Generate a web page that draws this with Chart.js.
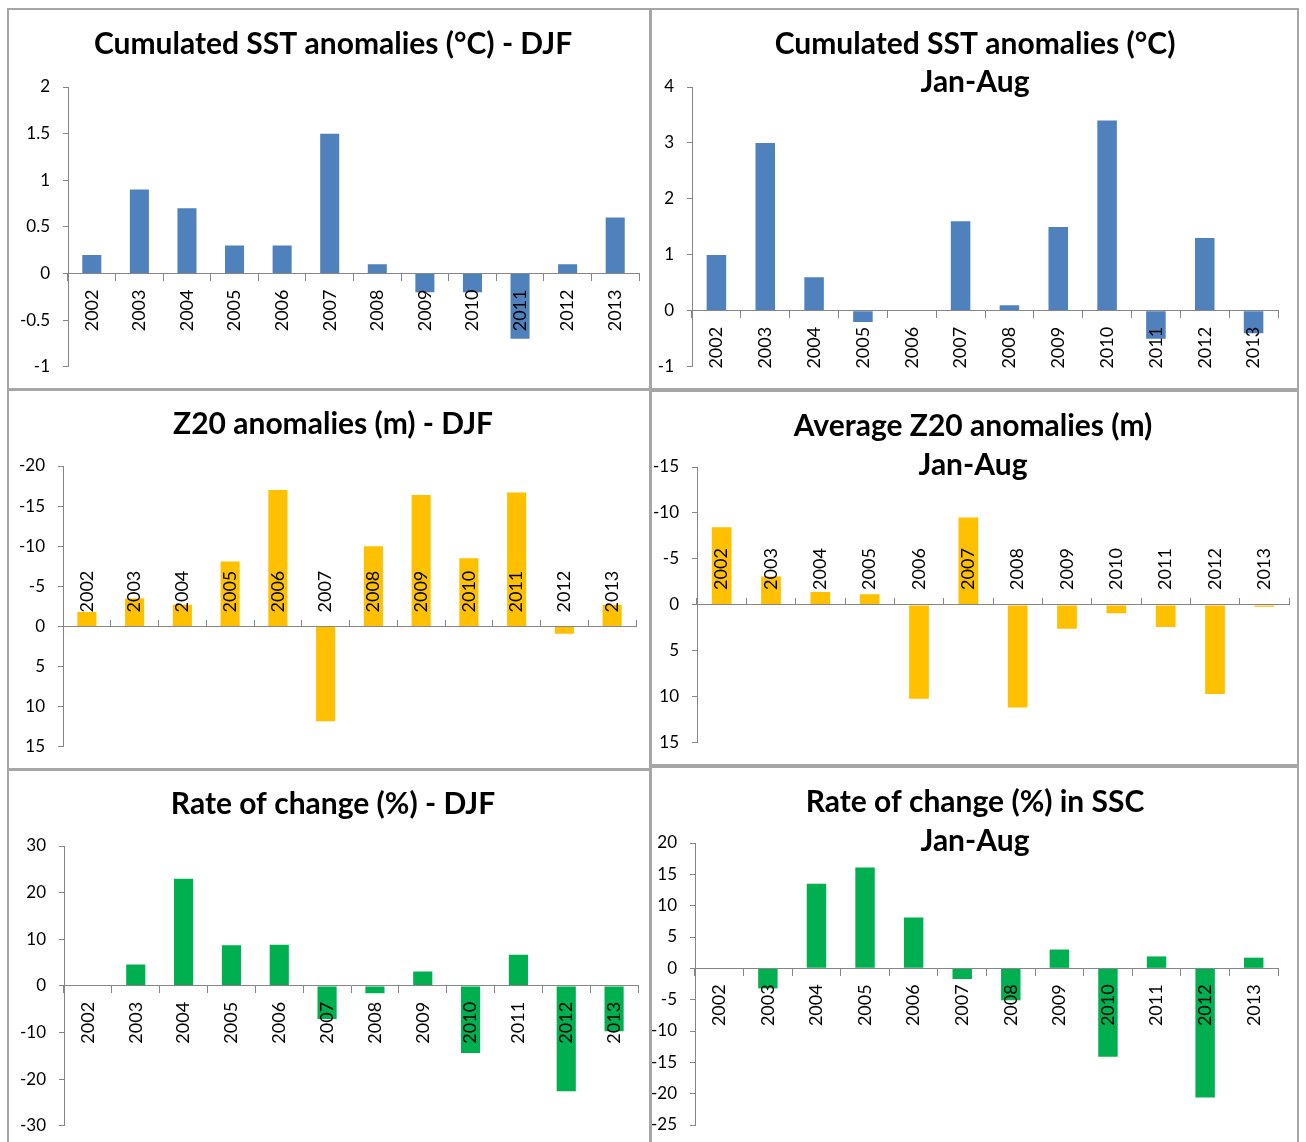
<!DOCTYPE html>
<html>
<head>
<meta charset="utf-8">
<script src="https://cdn.jsdelivr.net/npm/chart.js@4.4.1/dist/chart.umd.min.js"></script>
<style>
  html, body { margin: 0; padding: 0; background: #fff; }
  #page { position: relative; width: 1306px; height: 1142px; overflow: hidden; background: #fff; }
  canvas { position: absolute; }
  .frame { position: absolute; box-sizing: border-box; border: 2px solid #a6a6a6; pointer-events: none; }
</style>
</head>
<body>
<div id="page"></div>
<script>
// categories
const years = ['2002', '2003', '2004', '2005', '2006', '2007', '2008', '2009', '2010', '2011', '2012', '2013'];

// series values
const sstDjf    = [0.2, 0.9, 0.7, 0.3, 0.3, 1.5, 0.1, -0.2, -0.2, -0.7, 0.1, 0.6];
const sstJanAug = [1.0, 3.0, 0.6, -0.2, 0, 1.6, 0.1, 1.5, 3.4, -0.5, 1.3, -0.4];
const z20Djf    = [-1.8, -3.5, -2.7, -8.1, -17, 11.8, -10, -16.4, -8.5, -16.7, 0.9, -2.7];
const z20JanAug = [-8.45, -3.1, -1.4, -1.15, 10.2, -9.5, 11.15, 2.6, 0.9, 2.4, 9.7, 0.2];
const rateDjf   = [0, 4.6, 23, 8.7, 8.8, -7.1, -1.6, 3.1, -14.4, 6.7, -22.6, -9.7];
const rateSsc   = [0, -3.2, 13.5, 16.1, 8.1, -1.7, -5.1, 3.0, -14.1, 1.9, -20.6, 1.7];

// value axis tick labels: [min, max, step]
const sstDjfTicks    = [-1, 2, 0.5];
const sstJanAugTicks = [-1, 4, 1];
const z20DjfTicks    = [-20, 15, 5];
const z20JanAugTicks = [-15, 15, 5];
const rateDjfTicks   = [-30, 30, 10];
const rateSscTicks   = [-25, 20, 5];

const BLUE = '#4F81BD';
const GOLD = '#FFC000';
const GREEN = '#00B050';
const AXIS = '#868686';
const FONT = 'Lato';
const TICK_X = 18;
const TICK_Y = 17;
const TITLE_SIZE = 30;

Chart.defaults.font.family = FONT;
Chart.defaults.color = '#000';

// frame = panel border [x, y, w, h]; plot = [left, top, right, bottom] of the plot area
const panels = [
  { frame: [7, 8, 644, 382], plot: [68, 87, 639, 367], titleX: 333, titleY: 44, lh: 39,
    title: ['Cumulated SST anomalies (°C) - DJF'], values: sstDjf, ticks: sstDjfTicks, color: BLUE },
  { frame: [650, 8, 649, 382], plot: [692, 87, 1278, 368], titleX: 975, titleY: 44, lh: 38.5,
    title: ['Cumulated SST anomalies (°C)', 'Jan-Aug'], values: sstJanAug, ticks: sstJanAugTicks, color: BLUE },
  { frame: [7, 389, 644, 381], plot: [63, 466, 636, 747], titleX: 333, titleY: 424, lh: 39,
    title: ['Z20 anomalies (m) - DJF'], values: z20Djf, ticks: z20DjfTicks, color: GOLD, reverse: true, gap: 14 },
  { frame: [650, 390, 649, 376], plot: [697, 467, 1289, 744], titleX: 973, titleY: 426, lh: 39.3,
    title: ['Average Z20 anomalies (m)', 'Jan-Aug'], values: z20JanAug, ticks: z20JanAugTicks, color: GOLD, reverse: true, gap: 15 },
  { frame: [7, 769, 644, 380], plot: [64, 846, 638, 1127], titleX: 333, titleY: 804, lh: 39,
    title: ['Rate of change (%) - DJF'], values: rateDjf, ticks: rateDjfTicks, color: GREEN },
  { frame: [650, 766, 649, 383], plot: [695, 843, 1278, 1125], titleX: 975, titleY: 802, lh: 39,
    title: ['Rate of change (%) in SSC', 'Jan-Aug'], values: rateSsc, ticks: rateSscTicks, color: GREEN }
];

const measureCtx = document.createElement('canvas').getContext('2d');
measureCtx.font = TICK_X + 'px ' + FONT;
const yearWidth = measureCtx.measureText('2002').width;

const page = document.getElementById('page');

panels.forEach((p) => {
  const [fx, fy, fw, fh] = p.frame;
  const [pl, pt, pr, pb] = p.plot;

  // an empty right-hand spacer axis moves the centred title where the picture has it
  const spacer = Math.max(0, 2 * p.titleX - fx - pr);
  const cw = pr + spacer - fx;
  const ch = fh;
  const yWidth = pl - fx;
  const padB = fy + ch - pb;
  const lines = p.title.length;
  const titleTop = p.titleY - fy - p.lh / 2;
  const titleBottom = (pt - fy) - titleTop - lines * p.lh;

  const canvas = document.createElement('canvas');
  canvas.width = cw;
  canvas.height = ch;
  canvas.style.left = fx + 'px';
  canvas.style.top = fy + 'px';
  page.appendChild(canvas);

  const frame = document.createElement('div');
  frame.className = 'frame';
  frame.style.left = fx + 'px';
  frame.style.top = fy + 'px';
  frame.style.width = fw + 'px';
  frame.style.height = fh + 'px';
  page.appendChild(frame);

  // year labels below the zero line, or above it on the reversed axes
  const tickLen = p.reverse ? -7 : 7;
  const labelPad = p.reverse ? -(p.gap + yearWidth) - tickLen : 16 - tickLen;

  new Chart(canvas, {
    type: 'bar',
    data: {
      labels: years,
      datasets: [{
        data: p.values,
        backgroundColor: p.color,
        borderWidth: 0,
        categoryPercentage: 0.4,
        barPercentage: 1.0
      }]
    },
    options: {
      responsive: false,
      animation: false,
      devicePixelRatio: 1,
      layout: { padding: { left: 0, right: 0, top: 0, bottom: padB } },
      plugins: {
        legend: { display: false },
        tooltip: { enabled: false },
        title: {
          display: true,
          text: p.title,
          color: '#000',
          font: { family: FONT, size: TITLE_SIZE, weight: 'bold', lineHeight: p.lh + 'px' },
          padding: { top: titleTop, bottom: titleBottom }
        }
      },
      scales: {
        x: {
          type: 'category',
          position: { y: 0 },
          grid: { drawOnChartArea: false, drawTicks: true, tickLength: tickLen, color: AXIS, offset: true, z: 1 },
          border: { display: true, color: AXIS, width: 1, z: 1 },
          ticks: {
            autoSkip: false,
            maxRotation: 90,
            minRotation: 90,
            padding: labelPad,
            color: '#000',
            font: { size: TICK_X },
            z: 1
          }
        },
        y: {
          position: 'left',
          reverse: !!p.reverse,
          min: p.ticks[0],
          max: p.ticks[1],
          grid: { drawOnChartArea: false, drawTicks: true, tickLength: 5, color: AXIS },
          border: { display: true, color: AXIS, width: 1 },
          ticks: {
            stepSize: p.ticks[2],
            padding: 13,
            color: '#000',
            font: { size: TICK_Y },
            callback: (v) => String(v)
          },
          afterFit: (scale) => { scale.width = yWidth; }
        },
        spacer: {
          type: 'linear',
          position: 'right',
          display: true,
          grid: { display: false },
          border: { display: false },
          ticks: { display: false },
          afterFit: (scale) => { scale.width = spacer; }
        }
      }
    }
  });
});
</script>
</body>
</html>
